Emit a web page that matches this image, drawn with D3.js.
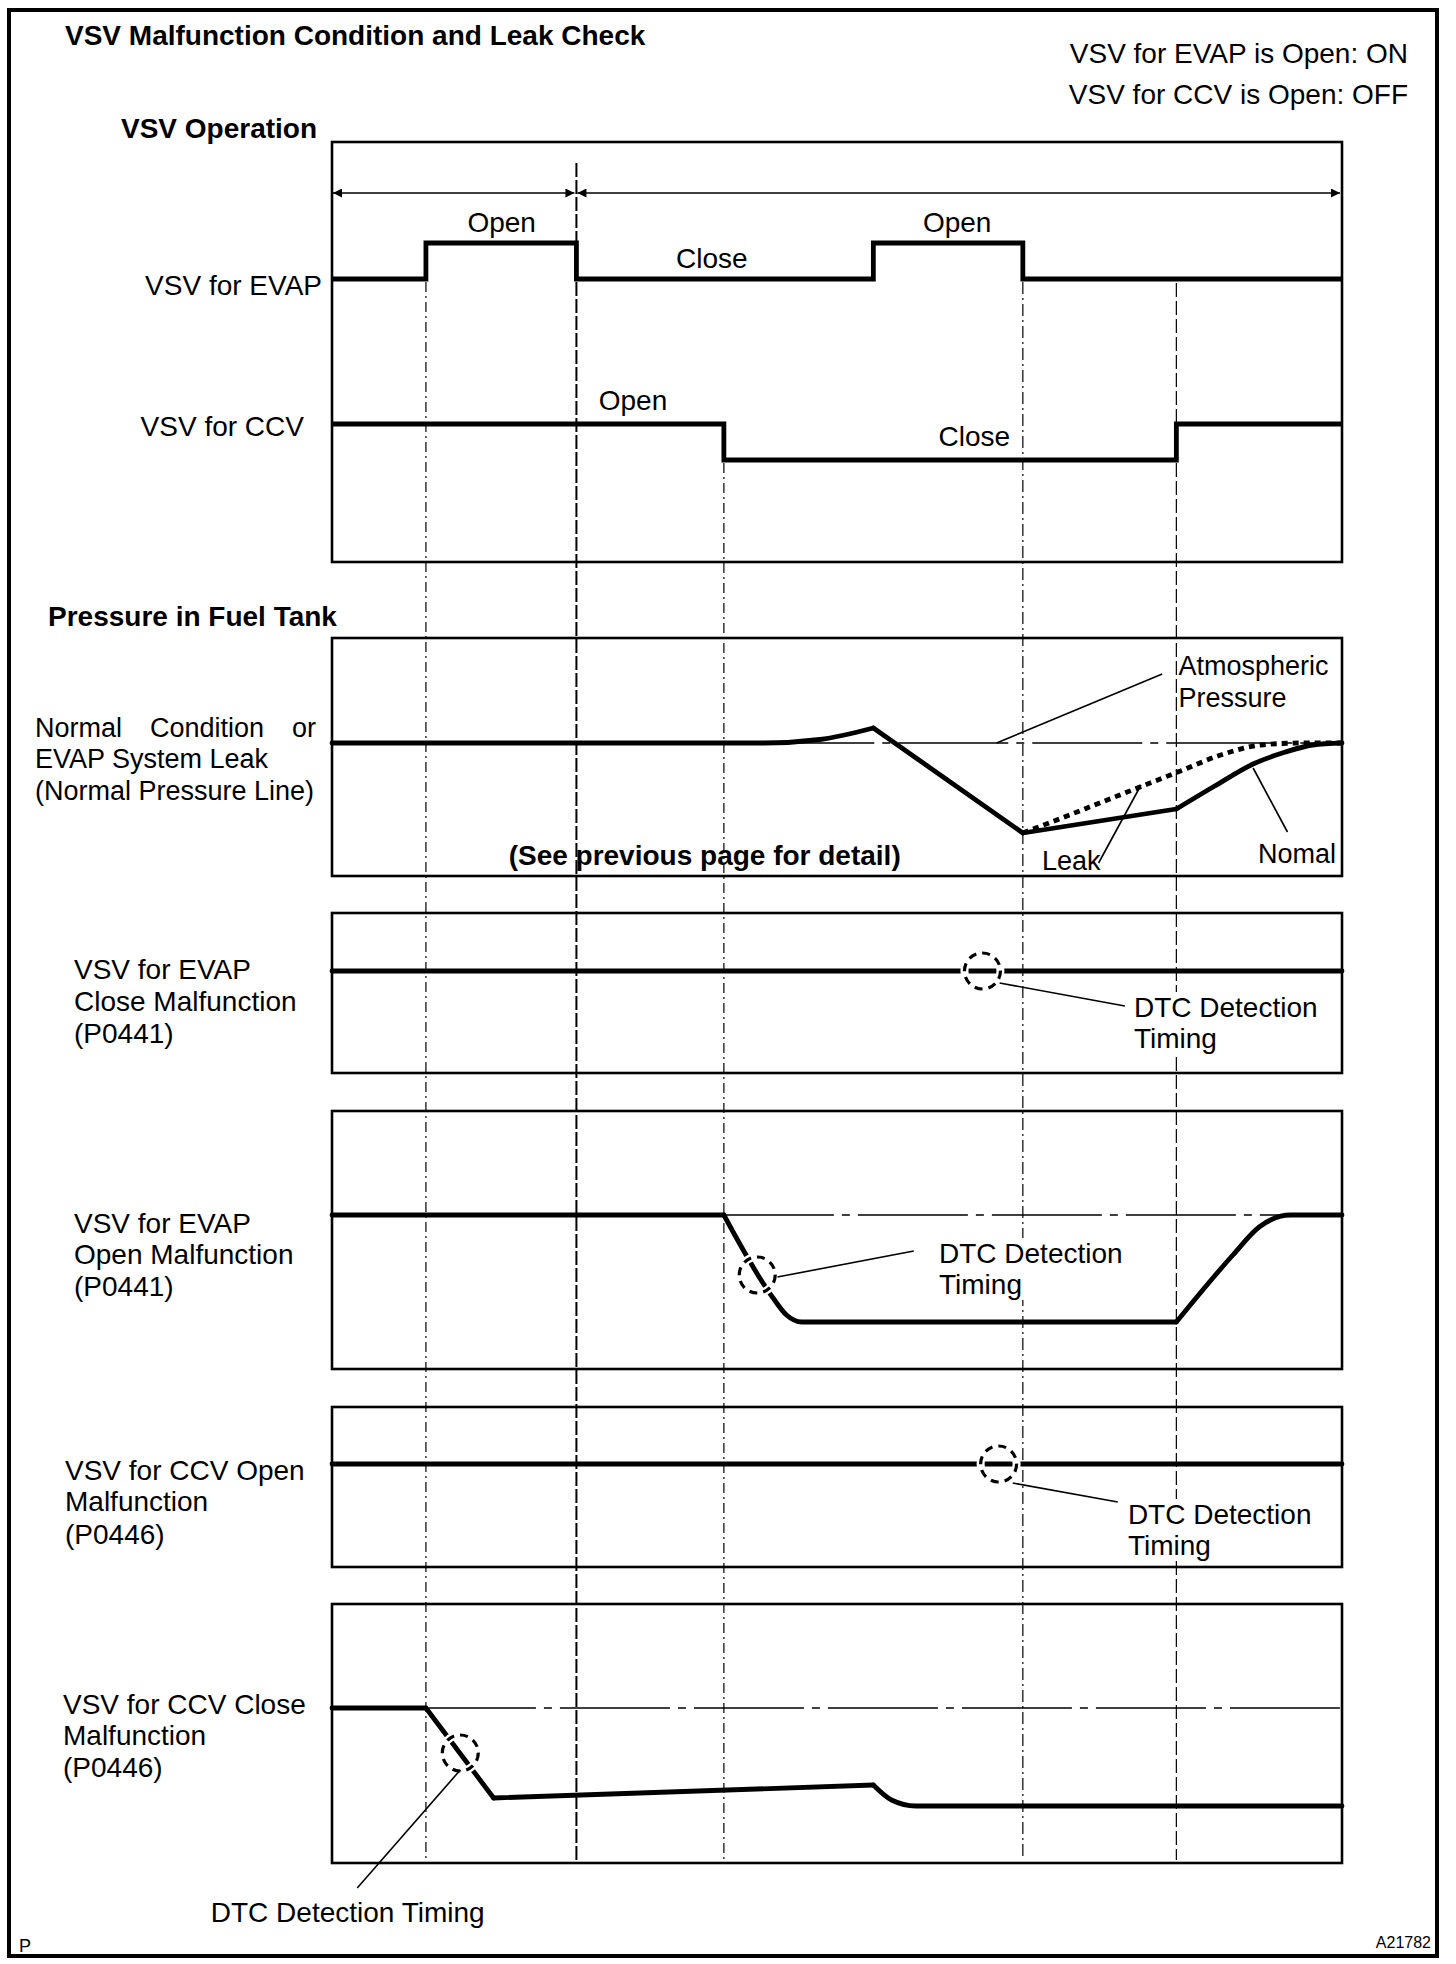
<!DOCTYPE html>
<html lang="en">
<head>
<meta charset="utf-8">
<title>VSV Malfunction Condition and Leak Check</title>
<script src="https://d3js.org/d3.v7.min.js"></script>
<style>
  body { margin: 0; background: #fff; }
  svg { display: block; font-family: "Liberation Sans", Arial, sans-serif; }
  text { fill: #000; font-size: 28px; }
  .bold { font-weight: bold; font-size: 28px; }
  .small { font-size: 27px; }
  .frame { fill: none; stroke: #000; stroke-width: 2.6px; }
  .trace { fill: none; stroke: #000; stroke-width: 4.8px; stroke-linejoin: round; stroke-linecap: round; }
  .step { fill: none; stroke: #000; stroke-width: 4.8px; stroke-linejoin: miter; }
  .leak { fill: none; stroke: #000; stroke-width: 4.8px; stroke-dasharray: 6 5; }
  .atm { fill: none; stroke: #000; stroke-width: 1.3px; stroke-dasharray: 110 8 8 8; }
  .leader { fill: none; stroke: #000; stroke-width: 1.6px; }
  .ring-bg { fill: none; stroke: #fff; stroke-width: 8px; }
  .ring { fill: none; stroke: #000; stroke-width: 3.2px; stroke-dasharray: 8 6; }
</style>
</head>
<body>
<svg width="1456" height="1964"></svg>
<script>
// time runs 0..100 across every panel, pressure is relative to atmospheric (0)
const markerTimes = [9.3, 24.2, 38.8, 68.4, 83.6];
const phaseSpans = [[0, 24.2], [24.2, 100]];

const evapState = [[0, 0], [9.3, 1], [24.2, 0], [53.6, 1], [68.4, 0], [100, 0]];
const ccvState = [[0, 1], [38.8, 0], [83.6, 1], [100, 1]];
const evapStateLabels = [["Open", 16.8, 1], ["Close", 37.6, 0], ["Open", 61.9, 1]];
const ccvStateLabels = [["Open", 29.8, 1], ["Close", 63.6, 0]];

const normalPressure = [[0, 0], [42.8, 0], [48.3, 0.35], [53.6, 1.5], [68.4, -9.0], [83.6, -6.6],
  [87.4, -4.3], [91.2, -2.1], [94.4, -0.9], [97.1, -0.2], [100, 0]];
const normalCorners = [53.6, 68.4, 83.6];
const leakPressure = [[68.4, -9.0], [72, -7.6], [76, -6.0], [80, -4.4], [84, -2.8], [88, -1.2],
  [92, -0.2], [96, 0], [100, 0]];
const flatPressure = [[0, 0], [100, 0]];
const evapOpenFault = [[0, 0], [38.8, 0], [43.6, -8.2], [45.0, -10.0], [46.5, -10.7], [83.6, -10.7],
  [89.2, -4.0], [91.8, -1.2], [94.9, 0], [100, 0]];
const evapOpenCorners = [38.8, 83.6];
const ccvCloseFault = [[0, 0], [9.3, 0], [16.0, -9.0], [53.6, -7.7], [55.4, -9.2], [57.8, -9.8], [100, -9.8]];
const ccvCloseCorners = [9.3, 16.0, 53.6];

// atmospheric reference line start per panel
const atmStart = {tank: 42.8, evapOpen: 38.8, ccvClose: 9.3};

// DTC detection points
const detections = [
  {panel: "evapClose", t: 64.4, v: 0, leader: [[66.1, -1.2], [78.5, -3.5]], text: [79.4, -4.6]},
  {panel: "evapOpen", t: 42.1, v: -6.0, leader: [[44.1, -6.2], [57.6, -3.6]], text: [60.1, -4.8]},
  {panel: "ccvOpen", t: 66.0, v: 0, leader: [[67.4, -1.9], [77.8, -3.8]], text: [78.8, -6.0]},
  {panel: "ccvClose", t: 12.7, v: -4.5, leader: [[12.7, -6.2], [2.5, -18.0]], text: [-12.0, -21.4]}
];

const rowLabels = [
  {panel: "evapClose", lines: ["VSV for EVAP", "Close Malfunction", "(P0441)"]},
  {panel: "evapOpen", lines: ["VSV for EVAP", "Open Malfunction", "(P0441)"]},
  {panel: "ccvOpen", lines: ["VSV for CCV Open", "Malfunction", "(P0446)"]},
  {panel: "ccvClose", lines: ["VSV for CCV Close", "Malfunction", "(P0446)"]}
];
const tankLabel = [["Normal", "Condition", "or"], "EVAP System Leak", "(Normal Pressure Line)"];

// ---------- layout ----------
const svg = d3.select("svg");
const x = d3.scaleLinear().domain([0, 100]).range([332, 1342]);

const panels = {
  ops:       {top: 142, bottom: 562},
  tank:      {top: 638, bottom: 876, atm: 743},
  evapClose: {top: 913, bottom: 1073, atm: 971, labelX: 74, base: [979, 1011, 1043]},
  evapOpen:  {top: 1111, bottom: 1369, atm: 1215, labelX: 74, base: [1233, 1264, 1296]},
  ccvOpen:   {top: 1407, bottom: 1567, atm: 1464, labelX: 65, base: [1480, 1511, 1544]},
  ccvClose:  {top: 1604, bottom: 1863, atm: 1708, labelX: 63, base: [1714, 1745, 1777]}
};
Object.values(panels).forEach(p => {
  if (p.atm !== undefined) p.y = d3.scaleLinear().domain([0, -10]).range([p.atm, p.atm + 100]);
});

const evapY = d3.scaleLinear().domain([0, 1]).range([279, 243]);
const ccvY = d3.scaleLinear().domain([0, 1]).range([460, 424]);

svg.append("rect").attr("width", 1456).attr("height", 1964).attr("fill", "#fff");

const defs = svg.append("defs");
defs.append("marker")
  .attr("id", "ah")
  .attr("viewBox", "0 0 10 10")
  .attr("refX", 10).attr("refY", 5)
  .attr("markerWidth", 15).attr("markerHeight", 9)
  .attr("markerUnits", "userSpaceOnUse")
  .attr("orient", "auto-start-reverse")
  .append("path").attr("d", "M0,0L10,5L0,10z").attr("fill", "#000");

// vertical timing markers
const markerTop = [282, 163, 463, 282, 283];
const markerDash = ["10 4 2 4", "14 3", "10 4 2 4", "12 4 2 4", "14 4"];
const markerWidth = [1.2, 2, 1.2, 1.2, 1.2];
svg.append("g").selectAll("line")
  .data(markerTimes)
  .join("line")
  .attr("x1", d => x(d)).attr("x2", d => x(d))
  .attr("y1", (d, i) => markerTop[i]).attr("y2", 1860)
  .attr("stroke", "#000")
  .attr("stroke-width", (d, i) => markerWidth[i])
  .attr("stroke-dasharray", (d, i) => markerDash[i]);

// panel frames
svg.append("g").selectAll("rect")
  .data(Object.values(panels))
  .join("rect")
  .attr("class", "frame")
  .attr("x", x(0)).attr("y", d => d.top)
  .attr("width", x(100) - x(0))
  .attr("height", d => d.bottom - d.top);

// outer frame
svg.append("rect").attr("x", 9).attr("y", 10).attr("width", 1428).attr("height", 1946)
  .attr("fill", "none").attr("stroke", "#000").attr("stroke-width", 4);

// headings
svg.append("text").attr("class", "bold").attr("x", 65).attr("y", 45)
  .text("VSV Malfunction Condition and Leak Check");
svg.append("text").attr("class", "bold").attr("x", 121).attr("y", 138).text("VSV Operation");
svg.append("text").attr("class", "bold").attr("x", 48).attr("y", 626).text("Pressure in Fuel Tank");
svg.selectAll(".legend")
  .data(["VSV for EVAP is Open: ON", "VSV for CCV is Open: OFF"])
  .join("text").attr("class", "legend")
  .attr("x", 1408).attr("y", (d, i) => 63 + i * 41)
  .attr("text-anchor", "end").text(d => d);

// ---------- VSV operation ----------
svg.append("g").selectAll("line")
  .data(phaseSpans)
  .join("line")
  .attr("x1", d => x(d[0]) + 1).attr("x2", d => x(d[1]) - 2)
  .attr("y1", 193).attr("y2", 193)
  .attr("stroke", "#000").attr("stroke-width", 1.4)
  .attr("marker-start", "url(#ah)").attr("marker-end", "url(#ah)");

const stepLine = yS => d3.line().x(d => x(d[0])).y(d => yS(d[1])).curve(d3.curveStepAfter);
svg.append("path").datum(evapState).attr("class", "step").attr("d", stepLine(evapY));
svg.append("path").datum(ccvState).attr("class", "step").attr("d", stepLine(ccvY));

svg.append("g").selectAll("text")
  .data(evapStateLabels)
  .join("text").attr("text-anchor", "middle")
  .attr("x", d => x(d[1])).attr("y", d => evapY(d[2]) - 11).text(d => d[0]);
svg.append("g").selectAll("text")
  .data(ccvStateLabels)
  .join("text").attr("text-anchor", "middle")
  .attr("x", d => x(d[1])).attr("y", d => ccvY(d[2]) - 14).text(d => d[0]);

svg.append("text").attr("x", 322).attr("y", 295).attr("text-anchor", "end").text("VSV for EVAP");
svg.append("text").attr("x", 304).attr("y", 436).attr("text-anchor", "end").text("VSV for CCV");

// ---------- pressure panels ----------
function pieces(points, corners) {
  const out = [];
  let cur = [];
  points.forEach(p => {
    cur.push(p);
    if (corners.includes(p[0]) && cur.length > 1) { out.push(cur); cur = [p]; }
  });
  if (cur.length > 1) out.push(cur);
  return out;
}

function drawTrace(panelKey, points, corners, cls) {
  const p = panels[panelKey];
  const line = d3.line().x(d => x(d[0])).y(d => p.y(d[1])).curve(d3.curveMonotoneX);
  svg.append("g").selectAll("path")
    .data(pieces(points, corners))
    .join("path")
    .attr("class", cls)
    .attr("d", line);
}

// atmospheric pressure reference lines
Object.entries(atmStart).forEach(([k, t0]) => {
  const p = panels[k];
  svg.append("line").attr("class", "atm")
    .attr("x1", x(t0)).attr("x2", x(100))
    .attr("y1", p.y(0)).attr("y2", p.y(0));
});

drawTrace("tank", leakPressure, [], "leak");
drawTrace("tank", normalPressure, normalCorners, "trace");
drawTrace("evapClose", flatPressure, [], "trace");
drawTrace("evapOpen", evapOpenFault, evapOpenCorners, "trace");
drawTrace("ccvOpen", flatPressure, [], "trace");
drawTrace("ccvClose", ccvCloseFault, ccvCloseCorners, "trace");

// tank annotations
const tank = panels.tank;
const tankNotes = [
  {leader: [[82.2, 6.9], [65.8, 0]], lines: ["Atmospheric", "Pressure"], at: [83.8, 6.8], anchor: "start"},
  {leader: [[75.9, -12.0], [80.1, -4.2]], lines: ["Leak"], at: [70.3, -12.7], anchor: "start"},
  {leader: [[94.6, -8.9], [91.2, -2.5]], lines: ["Nomal"], at: [99.4, -12.0], anchor: "end"}
];
tankNotes.forEach(n => {
  svg.append("path").attr("class", "leader")
    .attr("d", d3.line().x(d => x(d[0])).y(d => tank.y(d[1]))(n.leader));
  n.lines.forEach((s, i) => {
    svg.append("text").attr("class", "small").attr("x", x(n.at[0])).attr("y", tank.y(n.at[1]) + i * 32)
      .attr("text-anchor", n.anchor).text(s);
  });
});
svg.append("text").attr("class", "bold").attr("text-anchor", "middle")
  .attr("x", x(36.9)).attr("y", tank.y(-12.2)).text("(See previous page for detail)");

// tank row label, first line spread to full width
const tankBase = [737, 768, 800];
const wl = svg.append("g").attr("class", "small");
wl.append("text").attr("class", "small").attr("x", 35).attr("y", tankBase[0]).text(tankLabel[0][0]);
wl.append("text").attr("class", "small").attr("x", 207).attr("y", tankBase[0]).attr("text-anchor", "middle").text(tankLabel[0][1]);
wl.append("text").attr("class", "small").attr("x", 316).attr("y", tankBase[0]).attr("text-anchor", "end").text(tankLabel[0][2]);
wl.append("text").attr("class", "small").attr("x", 35).attr("y", tankBase[1]).text(tankLabel[1]);
wl.append("text").attr("class", "small").attr("x", 35).attr("y", tankBase[2]).text(tankLabel[2]);

// row labels
rowLabels.forEach(r => {
  const p = panels[r.panel];
  svg.append("g").selectAll("text")
    .data(r.lines)
    .join("text")
    .attr("x", p.labelX).attr("y", (d, i) => p.base[i]).text(d => d);
});

// DTC detection rings and notes
detections.forEach(d => {
  const p = panels[d.panel];
  const cx = x(d.t), cy = p.y(d.v);
  svg.append("circle").attr("class", "ring-bg").attr("cx", cx).attr("cy", cy).attr("r", 18);
  svg.append("circle").attr("class", "ring").attr("cx", cx).attr("cy", cy).attr("r", 18);
  svg.append("path").attr("class", "leader")
    .attr("d", d3.line().x(q => x(q[0])).y(q => p.y(q[1]))(d.leader));
  const note = svg.append("g");
  if (d.panel === "ccvClose") {
    note.append("text").attr("x", x(d.text[0])).attr("y", p.y(d.text[1])).text("DTC Detection Timing");
  } else {
    note.append("text").attr("x", x(d.text[0])).attr("y", p.y(d.text[1])).text("DTC Detection");
    note.append("text").attr("x", x(d.text[0])).attr("y", p.y(d.text[1]) + 31).text("Timing");
    // text blanks out the timing marker lines behind it
    const bb = note.node().getBBox();
    note.insert("rect", "text")
      .attr("x", bb.x - 2).attr("y", bb.y)
      .attr("width", bb.width + 4).attr("height", bb.height)
      .attr("fill", "#fff");
  }
});

// corner marks
svg.append("text").attr("x", 19).attr("y", 1952).style("font-size", "18px").text("P");
svg.append("text").attr("x", 1431).attr("y", 1948).attr("text-anchor", "end")
  .style("font-size", "16px").text("A21782");
</script>
</body>
</html>
